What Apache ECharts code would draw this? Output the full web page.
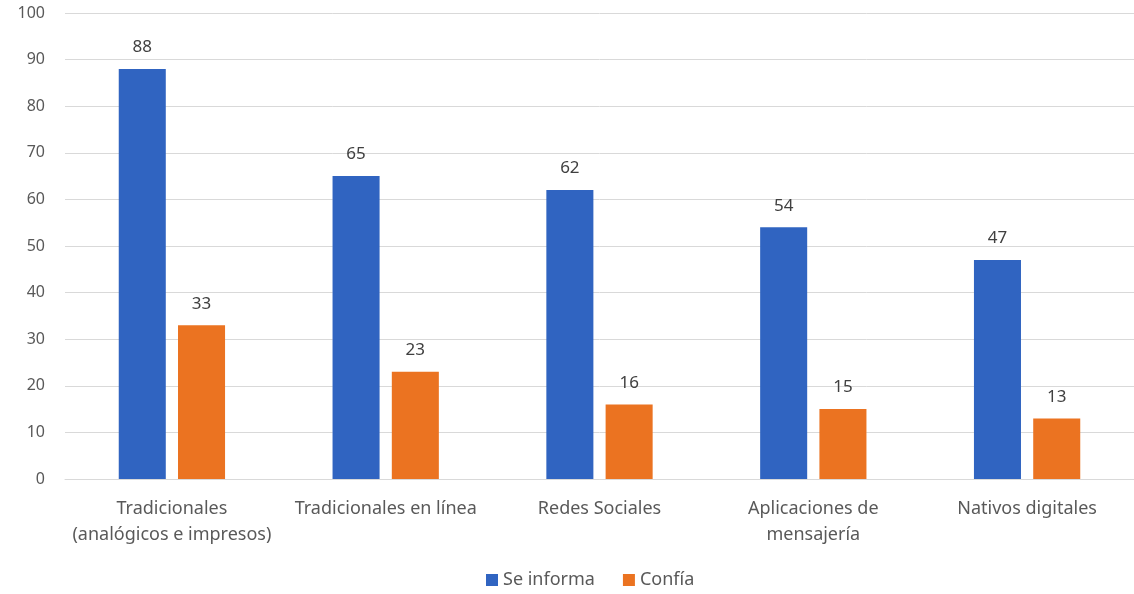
<!DOCTYPE html>
<html><head><meta charset="utf-8">
<script src="https://cdn.jsdelivr.net/npm/echarts@6/dist/echarts.min.js"></script>
<style>html,body{margin:0;padding:0;background:#fff}#c{width:1134px;height:594px}</style>
</head><body><div id="c"></div>
<script>
const categories = ["Tradicionales\n(analógicos e impresos)", "Tradicionales en línea", "Redes Sociales", "Aplicaciones de\nmensajería", "Nativos digitales"];
const seInforma = [88, 65, 62, 54, 47];
const confia = [33, 23, 16, 15, 13];
const seriesNames = ["Se informa", "Confía"];

const chart = echarts.init(document.getElementById('c'));
const font = "'Noto Sans', 'Open Sans', sans-serif";
const lbl = {show: true, position: 'top', distance: 13, color: '#404040', fontSize: 17, fontFamily: font};
chart.setOption({
  animation: false,
  grid: {left: 65, right: 0, top: 13, bottom: 115},
  legend: {
    bottom: 0, left: 481, itemWidth: 12, itemHeight: 12, itemGap: 28,
    icon: 'rect',
    textStyle: {color: '#595959', fontSize: 18, fontFamily: font},
    data: seriesNames
  },
  xAxis: {
    type: 'category', data: categories,
    axisLine: {show: true, lineStyle: {color: '#d9d9d9'}},
    axisTick: {show: false},
    axisLabel: {color: '#595959', fontSize: 18, fontFamily: font, margin: 17, lineHeight: 26, interval: 0}
  },
  yAxis: {
    type: 'value', min: 0, max: 100, interval: 10,
    axisLine: {show: false}, axisTick: {show: false},
    splitLine: {lineStyle: {color: '#d9d9d9'}},
    axisLabel: {color: '#595959', fontSize: 16, fontFamily: font, margin: 20}
  },
  series: [
    {name: seriesNames[0], type: 'bar', data: seInforma, barWidth: '22%', barGap: '26%',
     itemStyle: {color: '#3064C1'}, label: lbl},
    {name: seriesNames[1], type: 'bar', data: confia, barWidth: '22%',
     itemStyle: {color: '#EB7321'}, label: lbl}
  ]
});
</script></body></html>
